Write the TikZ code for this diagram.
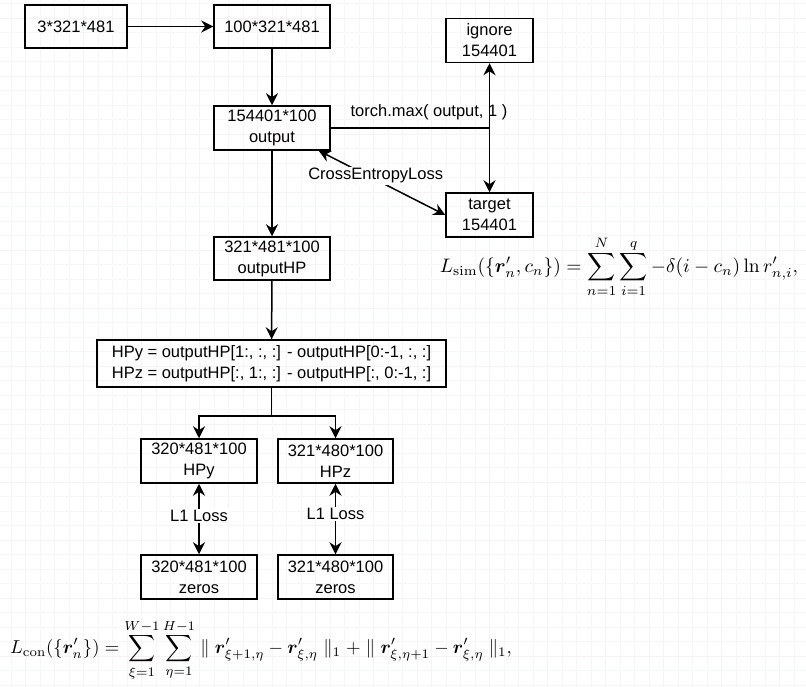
\documentclass[tikz,border=0pt]{standalone}
\usepackage{amsmath}
\usepackage{bm}
\usepackage{graphicx}
\usepackage[no-math]{fontspec}
\setmainfont{Liberation Sans}
\usetikzlibrary{calc, positioning}
\usetikzlibrary{arrows.meta}

\definecolor{gridgrey}{HTML}{F7F7F7}
\definecolor{gridpink}{HTML}{FDF0F2}

\tikzset{
  box/.style={draw, line width=1.5pt, align=center, inner sep=0pt, font=\fontsize{16.5}{21}\selectfont},
  wide/.style={box, minimum width=116pt, minimum height=44pt},
  narrow/.style={box, minimum width=87pt, minimum height=44pt},
  wire/.style={line width=1.5pt},
  arr/.style={wire, -{Stealth[length=12pt, width=12pt, inset=4pt]}},
  biarr/.style={wire, {Stealth[length=12pt, width=12pt, inset=4pt]}-{Stealth[length=12pt, width=12pt, inset=4pt]}},
  lbl/.style={font=\fontsize{16.5}{20}\selectfont, inner sep=1.5pt},
  eqn/.style={inner sep=0pt},
}

\begin{document}
\begin{tikzpicture}[x=1pt, y=-1pt]
\useasboundingbox (0,0) rectangle (806,687);
\begin{scope}[shift={(25.3,18)}]
  \draw[gridgrey, line width=0.6pt, step=14.5pt] (-25.3,-18) grid (780.7,669);
  \draw[gridpink, line width=0.6pt, step=58pt] (-25.3,-18) grid (780.7,669);
\end{scope}

\node[box, minimum width=102pt, minimum height=43pt] (inp) at (76,26.5) {3*321*481};
\node[wide, minimum height=43pt] (conv) at (272,26.5) {100*321*481};
\node[narrow] (ignore) at (489.5,40.5) {ignore\\154401};
\node[wide] (out) at (272,128) {154401*100\\output};
\node[narrow] (target) at (489.5,215) {target\\154401};
\node[wide, minimum height=43pt] (outhp) at (272,258.5) {321*481*100\\outputHP};
\node[box, minimum width=349pt, minimum height=47pt] (diff) at (271.5,363.5)
  {HPy = outputHP[1:, :, :] - outputHP[0:-1, :, :]\\HPz = outputHP[:, 1:, :] - outputHP[:, 0:-1, :]};
\node[wide] (hpy) at (199,461) {320*481*100\\HPy};
\node[wide, minimum width=115pt] (hpz) at (335.5,461) {321*480*100\\HPz};
\node[wide] (zy) at (199,577) {320*481*100\\zeros};
\node[wide, minimum width=115pt] (zz) at (335.5,577) {321*480*100\\zeros};

\coordinate (split) at (489.5,128);
\coordinate (fork) at (271.5,416);

\draw[arr] (inp) -- (conv);
\draw[arr] (conv) -- (out);
\draw[arr] (out) -- (outhp);
\draw[arr] (outhp) -- (diff);

\draw[wire] (out.east) -- (split);
\draw[arr] (split) -- (ignore);
\draw[arr] (split) -- (target);
\node[lbl] (maxlbl) at (429,112) {torch.max( output, 1 )};

\draw[biarr] ([xshift=-12pt]out.south east) -- (target.west)
  node[lbl, pos=0.45, fill=white, yshift=4pt] (celbl) {CrossEntropyLoss};

\draw[wire] (diff) -- (fork);
\draw[arr] (fork) -| (hpy);
\draw[arr] (fork) -| (hpz);

\draw[biarr] (hpy) -- (zy) node[lbl, midway, fill=white, yshift=3pt] (l1y) {L1 Loss};
\draw[biarr] (hpz) -- (zz) node[lbl, midway, fill=white, yshift=5pt] (l1z) {L1 Loss};

\node[eqn] (lsim) at (619,267)
  {\scalebox{1.95}{$\displaystyle L_{\mathrm{sim}}(\{\bm{r}'_n, c_n\}) = \sum_{n=1}^{N}\sum_{i=1}^{q} -\delta(i-c_n)\ln r'_{n,i},$}};
\node[eqn] (lcon) at (261,650)
  {\scalebox{1.87}{$\displaystyle L_{\mathrm{con}}(\{\bm{r}'_n\}) = \sum_{\xi=1}^{W-1}\sum_{\eta=1}^{H-1} \parallel \bm{r}'_{\xi+1,\eta} - \bm{r}'_{\xi,\eta} \parallel_1 + \parallel \bm{r}'_{\xi,\eta+1} - \bm{r}'_{\xi,\eta} \parallel_1,$}};
\end{tikzpicture}
\end{document}
